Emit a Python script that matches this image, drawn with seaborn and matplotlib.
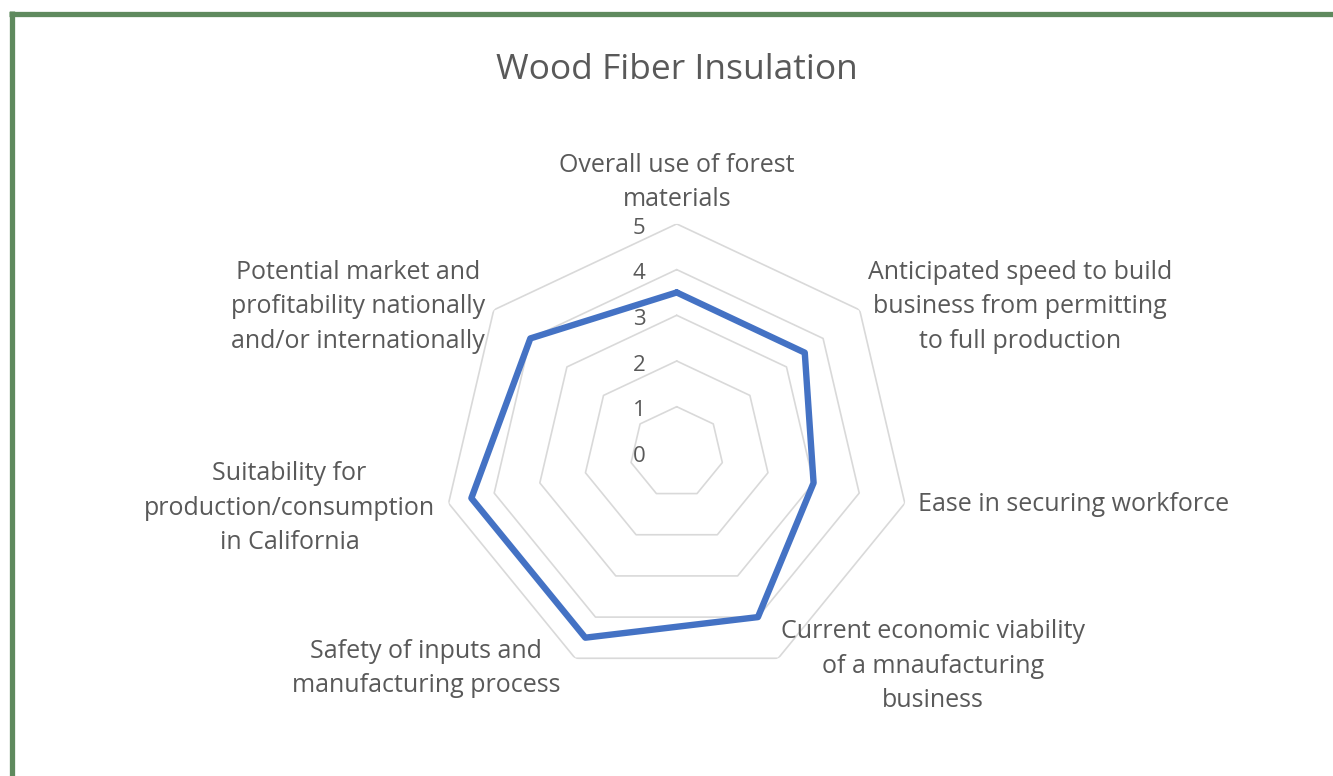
import numpy as np
import matplotlib
matplotlib.use("Agg")
import matplotlib.pyplot as plt
import seaborn as sns
from matplotlib.lines import Line2D

# --- dados ---
titulo = "Wood Fiber Insulation"
categorias = [
    "Overall use of forest\nmaterials",
    "Anticipated speed to build\nbusiness from permitting\nto full production",
    "Ease in securing workforce",
    "Current economic viability\nof a mnaufacturing\nbusiness",
    "Safety of inputs and\nmanufacturing process",
    "Suitability for\nproduction/consumption\nin California",
    "Potential market and\nprofitability nationally\nand/or internationally",
]
valores = [3.5, 3.5, 3.0, 4.0, 4.5, 4.5, 4.0]
niveis = [0, 1, 2, 3, 4, 5]

# --- estilo ---
sns.set_theme(style="white")
plt.rcParams["font.family"] = ["Open Sans", "DejaVu Sans"]
cor_texto = "#595959"
cor_grade = "#D9D9D9"
cor_linha = "#4472C4"

W, H = 1333, 776
fig = plt.figure(figsize=(W / 100, H / 100), dpi=100)
cx, cy, rx, ry = 676.7, 452.4, 234, 228.5   # centro e raios (px)
ax = fig.add_axes([(cx - rx) / W, (H - cy - ry) / H, 2 * rx / W, 2 * ry / H],
                  projection="polar")
ax.set_aspect("auto")
ax.set_theta_zero_location("N")
ax.set_theta_direction(-1)
ax.set_ylim(0, max(niveis))
ax.grid(False)
ax.set_xticks([])
ax.set_yticks([])
ax.spines["polar"].set_visible(False)
ax.set_facecolor("none")

n = len(categorias)
angulos = np.linspace(0, 2 * np.pi, n, endpoint=False)
ang_fech = np.append(angulos, 2 * np.pi)

# anéis heptagonais
for nv in niveis[1:]:
    ax.plot(ang_fech, [nv] * (n + 1), color=cor_grade, lw=1.2, zorder=1)

# série
val_fech = valores + [valores[0]]
sns.lineplot(x=ang_fech, y=val_fech, sort=False, ax=ax, color=cor_linha,
             lw=4.6, zorder=3, estimator=None)
ax.set_xlabel("")
ax.set_ylabel("")

# rótulos do eixo radial
for nv in niveis:
    ax.annotate(str(nv), xy=(0, nv), xytext=(-27, -3), textcoords="offset points",
                ha="center", va="center", fontsize=16, color=cor_texto)

# rótulos das categorias (deslocamento em px a partir do vértice do anel 5)
desloc = [(0, 11.5), (8, 3), (13, -1.5), (3, -8), (-14.5, -10), (-13.5, -5), (-9, 3)]
alinh = [("center", "bottom"), ("left", "center"), ("left", "center"),
         ("left", "center"), ("right", "center"), ("right", "center"),
         ("right", "center")]
for ang, lab, (dx, dy), (ha, va) in zip(angulos, categorias, desloc, alinh):
    ax.annotate(lab, xy=(ang, max(niveis)), xytext=(dx * 0.72, dy * 0.72),
                textcoords="offset points", ha=ha, va=va, fontsize=18,
                color=cor_texto, multialignment="center", linespacing=1.5)

fig.text(0.508, 1 - 70 / H, titulo, ha="center", va="center",
         fontsize=25.5, color=cor_texto)

# moldura verde
verde = "#5F8A5E"
fig.add_artist(Line2D([9 / W, 1], [1 - 13.5 / H] * 2, transform=fig.transFigure,
                      color=verde, lw=3.8, solid_capstyle="butt"))
fig.add_artist(Line2D([11.5 / W] * 2, [0, 1 - 11 / H], transform=fig.transFigure,
                      color=verde, lw=3.8, solid_capstyle="butt"))

fig.savefig("out.png", dpi=100, facecolor="white")
